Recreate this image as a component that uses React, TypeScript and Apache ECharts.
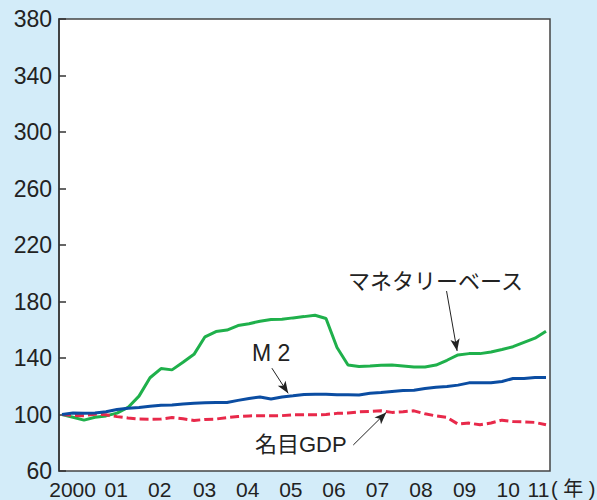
import React, { useEffect, useRef } from "react";
import * as echarts from "echarts";

// Quarterly index values, 2000 Q1 = 100
const quarters: number[] = Array.from({ length: 45 }, (_, i) => 2000 + i / 4);

const monetaryBase: number[] = [
  100, 98, 96, 98, 99, 101, 105, 113, 126, 132.5, 131.6, 137, 142.6, 155, 158.7,
  159.8, 163, 164.3, 166, 167.3, 167.4, 168.4, 169.3, 170.3, 168, 147.4, 135, 134,
  134.4, 134.9, 135, 134.4, 133.7, 133.7, 135, 138.4, 142.2, 143.1, 143.1, 144.3,
  146, 148, 151, 154, 159,
];

const m2: number[] = [
  100, 101, 100.8, 101, 102, 103.6, 104.4, 105, 105.8, 106.6, 106.8, 107.5, 108,
  108.3, 108.5, 108.5, 110, 111.3, 112.4, 111, 112.4, 113.2, 114.2, 114.4, 114.4,
  114, 114, 113.8, 115, 115.6, 116.3, 117, 117.2, 118.4, 119.3, 119.8, 120.8, 122.4,
  122.4, 122.4, 123.4, 125.5, 125.5, 126.2, 126.2,
];

const nominalGdp: number[] = [
  100, 99.3, 99.2, 100.2, 99.8, 98.5, 97.5, 96.8, 96.7, 96.8, 97.8, 97, 95.8, 96.5,
  96.8, 97.8, 98.6, 99, 99.1, 99.1, 99.2, 99.8, 99.8, 99.8, 100, 100.8, 101, 101.9,
  102.2, 102.6, 101.5, 102, 102.6, 100.5, 99, 98, 93.2, 93.9, 92.7, 94, 96, 95, 94.8,
  94.4, 92.7,
];

const yearLabels: string[] = ["2000", "01", "02", "03", "04", "05", "06", "07", "08", "09", "10", "11"];
// where each year label sits along the time axis
const yearLabelAt: number[] = [
  2000.24, 2001.23, 2002.22, 2003.24, 2004.22, 2005.2, 2006.18, 2007.17, 2008.16,
  2009.15, 2010.14, 2010.83,
];

const FONT = "'Liberation Sans', Arial, 'Noto Sans CJK JP', sans-serif";
const INK = "#222";

const arrow = (from: [number, number], to: [number, number]) => [
  { coord: from, symbol: "none" },
  { coord: to, symbol: "arrow" },
];

const arrowLine = (pairs: any[]) => ({
  silent: true,
  animation: false,
  symbolSize: [7, 12],
  label: { show: false },
  lineStyle: { color: INK, width: 1, type: "solid" },
  data: pairs,
});

export default function App() {
  const ref = useRef<HTMLDivElement>(null);

  useEffect(() => {
    if (!ref.current) return;
    const chart = echarts.init(ref.current, undefined, { renderer: "svg" });

    const zip = (vals: number[]) => vals.map((v, i) => [quarters[i], v]);

    chart.setOption({
      animation: false,
      backgroundColor: "#d3ecf9",
      grid: {
        left: 59,
        right: 47,
        top: 19,
        bottom: 28,
        show: true,
        backgroundColor: "#ffffff",
        borderColor: "#444",
        borderWidth: 1.5,
      },
      xAxis: {
        type: "value",
        min: 2000 - 3 / 44,
        max: 2011 + 4 / 44,
        axisLine: { show: false },
        axisTick: { show: false },
        splitLine: { show: false },
        axisLabel: {
          customValues: yearLabelAt,
          formatter: (v: number) => {
            let best = 0;
            yearLabelAt.forEach((p, i) => {
              if (Math.abs(p - v) < Math.abs(yearLabelAt[best] - v)) best = i;
            });
            return yearLabels[best];
          },
          fontFamily: FONT,
          fontSize: 21,
          color: INK,
          margin: 8,
        },
      },
      yAxis: {
        type: "value",
        min: 60,
        max: 380,
        interval: 40,
        axisLine: { show: true, lineStyle: { color: "#333", width: 1.5 } },
        axisTick: { show: true, inside: true, length: 7, lineStyle: { color: "#333", width: 1.5 } },
        splitLine: { show: false },
        axisLabel: { fontFamily: FONT, fontSize: 23, color: INK, margin: 7 },
      },
      series: [
        {
          name: "マネタリーベース",
          type: "line",
          data: zip(monetaryBase),
          showSymbol: false,
          lineStyle: { color: "#1fb04b", width: 3 },
          markLine: arrowLine([arrow([2008.74, 187.4], [2008.98, 145])]),
        },
        {
          name: "名目GDP",
          type: "line",
          data: zip(nominalGdp),
          showSymbol: false,
          lineStyle: { color: "#e8294a", width: 3, type: [9, 4] },
          markLine: arrowLine([arrow([2006.62, 78.4], [2007.37, 101.5])]),
        },
        {
          name: "M2",
          type: "line",
          data: zip(m2),
          showSymbol: false,
          lineStyle: { color: "#0b4da2", width: 3 },
          markLine: arrowLine([arrow([2004.77, 132.8], [2005.14, 115])]),
        },
      ],
      graphic: [
        {
          type: "text",
          left: 348,
          top: 270,
          style: { text: "マネタリーベース", font: `22px ${FONT}`, fill: INK },
        },
        {
          type: "text",
          left: 252,
          top: 341,
          style: { text: "M 2", font: `23px ${FONT}`, fill: INK },
        },
        {
          type: "text",
          left: 255,
          top: 433,
          style: { text: "名目GDP", font: `22px ${FONT}`, fill: INK },
        },
        {
          type: "text",
          left: 551,
          top: 479,
          style: { text: "( 年 )", font: `20px ${FONT}`, fill: INK },
        },
      ],
    });

    return () => chart.dispose();
  }, []);

  return (
    <div
      ref={ref}
      style={{ position: "fixed", left: 0, top: 0, width: 597, height: 500 }}
    />
  );
}
